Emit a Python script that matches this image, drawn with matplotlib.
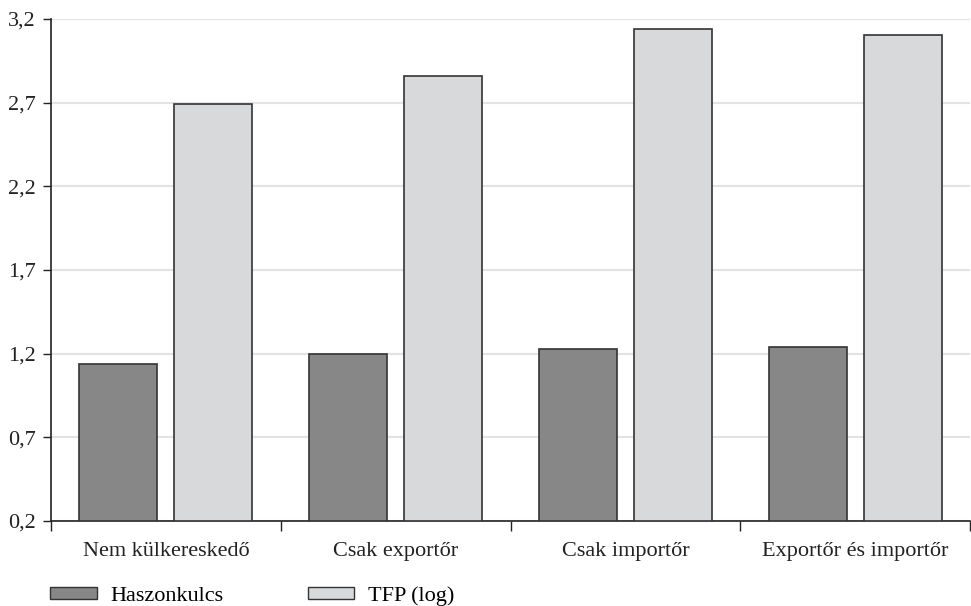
import matplotlib
matplotlib.use("Agg")
import matplotlib.pyplot as plt
import numpy as np
from matplotlib.patches import Patch

categories = ["Nem külkereskedő", "Csak exportőr", "Csak importőr", "Exportőr és importőr"]
haszonkulcs = [1.14, 1.20, 1.23, 1.24]
tfp_log = [2.69, 2.86, 3.14, 3.105]
yticks = [0.2, 0.7, 1.2, 1.7, 2.2, 2.7, 3.2]
ytick_labels = ["0,2", "0,7", "1,2", "1,7", "2,2", "2,7", "3,2"]

plt.rcParams['font.family'] = ['Liberation Serif', 'DejaVu Serif']

fig = plt.figure(figsize=(9.71, 6.06), dpi=100)
ax = fig.add_axes([51/971, 1-521/606, 919/971, 502/606])

x = np.arange(len(categories))
w = 0.34
off = 0.207
ax.bar(x - off, np.array(haszonkulcs) - 0.2, bottom=0.2, width=w, color="#878787",
       edgecolor="#333333", linewidth=1.2, label="Haszonkulcs", zorder=3)
ax.bar(x + off, np.array(tfp_log) - 0.2, bottom=0.2, width=w, color="#d8d9db",
       edgecolor="#333333", linewidth=1.2, label="TFP (log)", zorder=3)

ax.set_ylim(0.2, 3.2)
ax.set_xlim(-0.5, len(categories) - 0.5)
ax.set_yticks(yticks)
ax.set_yticklabels(ytick_labels, fontsize=16, color="#222222")
ax.yaxis.grid(True, color="#e3e3e3", linewidth=1.5, zorder=0)
ax.set_axisbelow(True)

ax.set_xticks(np.arange(-0.5, len(categories), 1.0))
ax.set_xticklabels([])
ax.set_xticks(x, minor=True)
ax.set_xticklabels(categories, minor=True, fontsize=16, color="#222222")
ax.tick_params(axis='x', which='minor', length=0, pad=15)
ax.tick_params(axis='x', which='major', length=7, width=1, color="#222222")
ax.tick_params(axis='y', length=6, width=1, color="#222222", pad=5)

for s in ["top", "right"]:
    ax.spines[s].set_visible(False)
for s in ["left", "bottom"]:
    ax.spines[s].set_color("#222222")
    ax.spines[s].set_linewidth(1.2)

handles = [Patch(facecolor="#878787", edgecolor="#333333", label="Haszonkulcs"),
           Patch(facecolor="#d8d9db", edgecolor="#333333", label="TFP (log)")]
fig.legend(handles=handles, loc="center left", bbox_to_anchor=(50/971, 1-596/606), ncol=2,
           frameon=False, fontsize=16, handlelength=2.1, handleheight=0.5,
           columnspacing=3.8, handletextpad=0.6, borderpad=0, borderaxespad=0)

fig.savefig("out.png", dpi=100)
